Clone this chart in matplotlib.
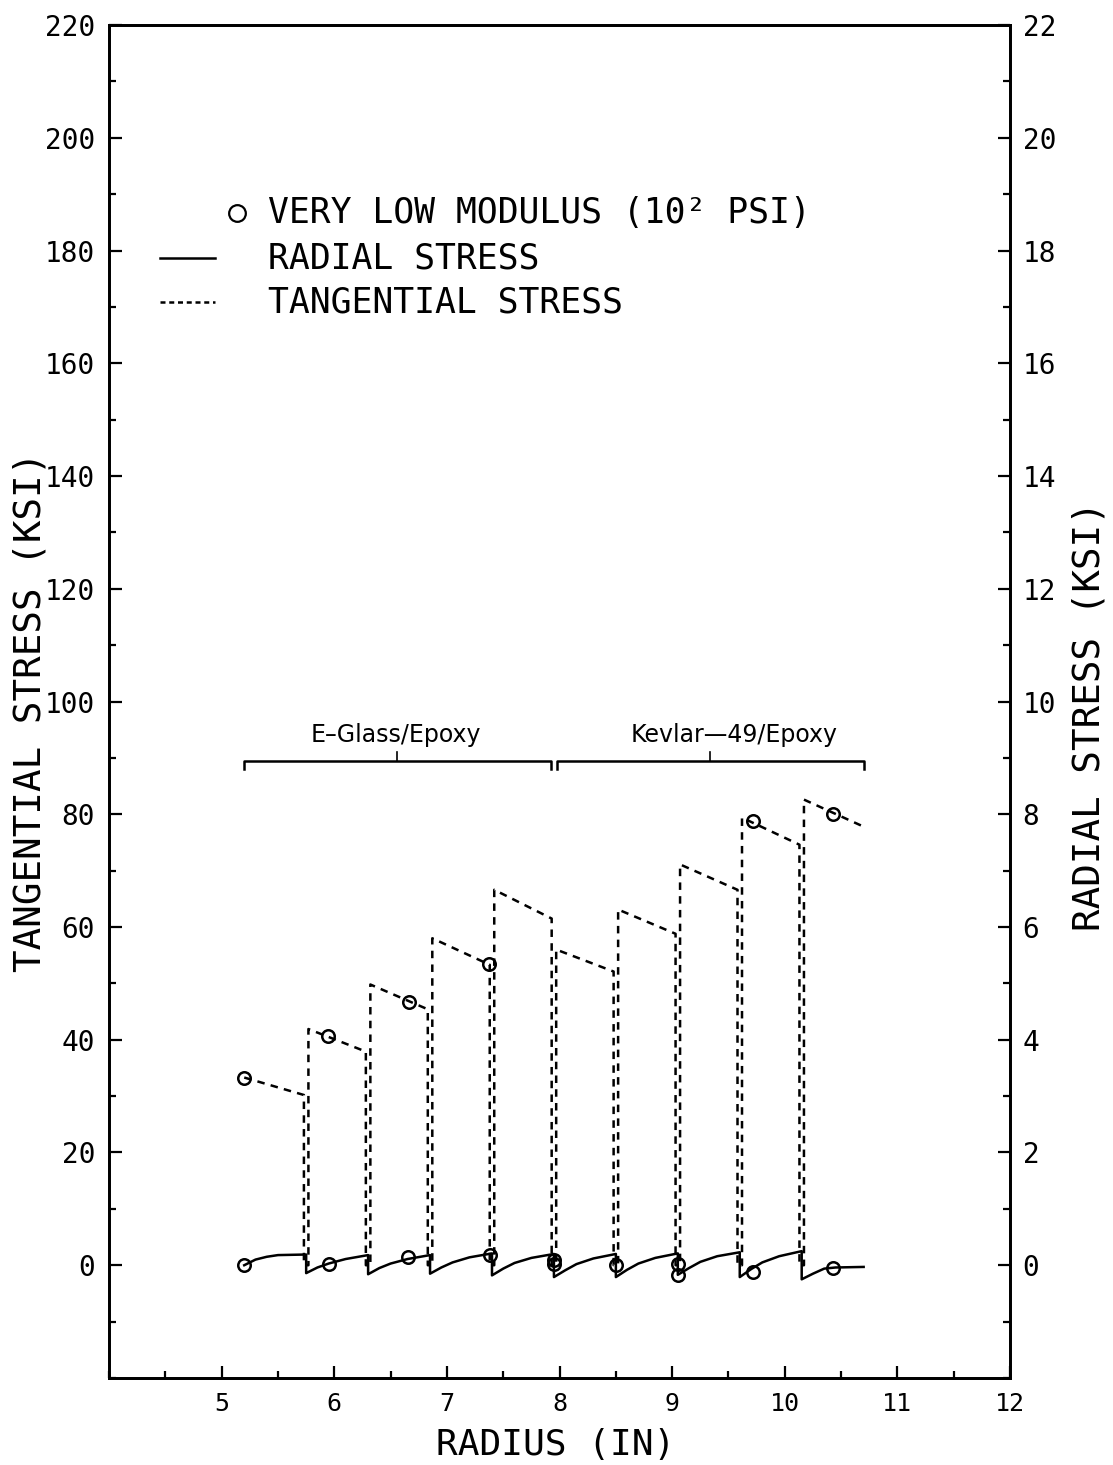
import matplotlib
matplotlib.use('Agg')
import matplotlib.pyplot as plt
from matplotlib.ticker import MultipleLocator

# layer edges (in) and tangential stress at inner / outer face of each layer (ksi)
layer_start = [5.20, 5.77, 6.32, 6.87, 7.42, 7.97, 8.52, 9.07, 9.62, 10.17]
layer_end = [5.73, 6.28, 6.83, 7.38, 7.93, 8.48, 9.03, 9.58, 10.13, 10.70]
tan_inner = [33.3, 41.9, 49.8, 58.0, 66.6, 56.0, 63.1, 71.1, 79.4, 82.6]
tan_outer = [30.2, 37.9, 45.4, 53.3, 61.5, 52.1, 58.8, 66.6, 74.6, 77.8]

# radial stress (ksi, right axis)
rad_x = [5.20, 5.30, 5.40, 5.50, 5.75,
         5.75, 5.85, 5.95, 6.10, 6.30,
         6.30, 6.40, 6.50, 6.65, 6.85,
         6.85, 6.95, 7.05, 7.20, 7.40,
         7.40, 7.50, 7.60, 7.75, 7.95,
         7.95, 8.05, 8.15, 8.30, 8.50,
         8.50, 8.60, 8.70, 8.85, 9.05,
         9.05, 9.15, 9.25, 9.40, 9.60,
         9.60, 9.70, 9.80, 9.95, 10.15,
         10.15, 10.25, 10.35, 10.45, 10.70]
rad_y = [0.00, 0.10, 0.15, 0.18, 0.19,
         -0.14, -0.04, 0.03, 0.11, 0.18,
         -0.16, -0.05, 0.03, 0.11, 0.18,
         -0.15, -0.04, 0.05, 0.14, 0.21,
         -0.18, -0.06, 0.04, 0.13, 0.20,
         -0.21, -0.09, 0.02, 0.12, 0.20,
         -0.21, -0.08, 0.03, 0.13, 0.21,
         -0.17, -0.05, 0.06, 0.16, 0.23,
         -0.21, -0.07, 0.05, 0.16, 0.25,
         -0.25, -0.15, -0.06, -0.04, -0.03]

# very low modulus points
vlm_tan_x = [5.20, 5.94, 6.66, 7.37, 9.72, 10.43]
vlm_tan_y = [33.3, 40.7, 46.7, 53.5, 78.8, 80.0]
vlm_rad_x = [5.20, 5.95, 6.65, 7.38, 7.95, 7.95, 8.50, 9.05, 9.05, 9.72, 10.43]
vlm_rad_y = [0.00, 0.02, 0.14, 0.18, 0.02, 0.09, 0.00, 0.02, -0.18, -0.12, -0.05]

brackets = [(5.20, 7.92), (7.98, 10.70)]
bracket_labels = ['E\u2013Glass/Epoxy', 'Kevlar\u201449/Epoxy']
bracket_label_x = [6.55, 9.55]

MONO = 'DejaVu Sans Mono'

# build tangential polyline: each interface drops to zero and climbs again
tx, ty = [], []
for i in range(len(layer_start)):
    if i > 0:
        tx += [layer_start[i], layer_start[i]]
        ty += [0, tan_inner[i]]
    else:
        tx.append(layer_start[i]); ty.append(tan_inner[i])
    tx.append(layer_end[i]); ty.append(tan_outer[i])
    if i < len(layer_start) - 1:
        tx.append(layer_end[i]); ty.append(0)

fig = plt.figure(figsize=(11.13, 14.65), dpi=100)
ax = fig.add_axes([0.098, 0.0594, 0.8095, 0.9235])
ax2 = ax.twinx()

ax.plot(tx, ty, color='black', lw=1.8, dashes=(3, 2.5))
ax.plot(vlm_tan_x, vlm_tan_y, 'o', ms=9, mfc='none', mec='black', mew=1.8)
ax2.plot(rad_x, rad_y, color='black', lw=1.8)
ax2.plot(vlm_rad_x, vlm_rad_y, 'o', ms=9, mfc='none', mec='black', mew=1.8)

ax.set_xlim(4, 12)
ax.set_ylim(-20, 220)
ax2.set_ylim(-2, 22)

# material brackets
for (x0, x1), lab, lx in zip(brackets, bracket_labels, bracket_label_x):
    ax.plot([x0, x0, x1, x1], [88, 89.5, 89.5, 88], color='black', lw=1.8)
    ax.plot([(x0 + x1) / 2] * 2, [89.5, 91], color='black', lw=1.2)
    ax.text(lx, 92, lab, ha='center', va='bottom', fontsize=17, family='DejaVu Sans')

# legend drawn by hand
ax.plot([5.14], [186.6], 'o', ms=12, mfc='none', mec='black', mew=1.6)
ax.plot([4.45, 4.94], [178.6, 178.6], color='black', lw=1.8)
ax.plot([4.45, 4.94], [170.8, 170.8], color='black', lw=1.8, dashes=(2, 1.5))
for yy, s in zip([186.6, 178.6, 170.8],
                 ['VERY LOW MODULUS (10\u00b2 PSI)', 'RADIAL STRESS', 'TANGENTIAL STRESS']):
    ax.text(5.41, yy, s, va='center', ha='left', fontsize=25, family=MONO)

ax.xaxis.set_minor_locator(MultipleLocator(0.5))
ax.yaxis.set_minor_locator(MultipleLocator(10))
ax2.yaxis.set_minor_locator(MultipleLocator(1))
ax.set_xticks(range(5, 13))
ax.set_yticks(range(0, 221, 20))
ax2.set_yticks(range(0, 23, 2))

ax.tick_params(which='both', direction='in', width=1.6, right=False, top=False)
ax.tick_params(which='major', length=9)
ax.tick_params(which='minor', length=5)
ax.tick_params(axis='y', pad=10, labelsize=20)
ax.tick_params(axis='x', pad=10, labelsize=18)
ax2.tick_params(which='both', direction='in', width=1.6, pad=9, labelsize=20)
ax2.tick_params(which='major', length=9)
ax2.tick_params(which='minor', length=5)
for a in (ax, ax2):
    for lab in a.get_xticklabels() + a.get_yticklabels():
        lab.set_family(MONO)
    for sp in a.spines.values():
        sp.set_linewidth(2.0)

fig.text(0.499, 0.0135, 'RADIUS (IN)', ha='center', va='center', fontsize=26, family=MONO)
fig.text(0.027, 0.514, 'TANGENTIAL STRESS (KSI)', ha='center', va='center',
         rotation=90, fontsize=27, family=MONO)
fig.text(0.979, 0.511, 'RADIAL STRESS (KSI)', ha='center', va='center',
         rotation=90, fontsize=27, family=MONO)

fig.savefig('out.png', dpi=100, facecolor='white')
